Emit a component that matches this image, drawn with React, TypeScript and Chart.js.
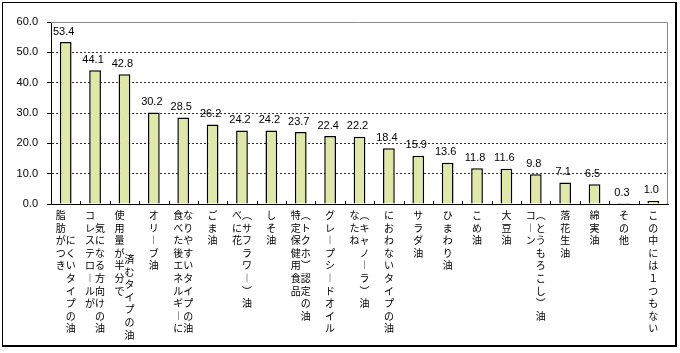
import React, { useEffect, useRef } from "react";
import { Chart, registerables } from "chart.js";

Chart.register(...registerables);

// ---- data ----
const categoryColumns: string[][] = [
  ["脂肪がつき", "にくいタイプの油"],
  ["コレステロールが", "気になる方向けの油"],
  ["使用量が半分で", "済むタイプの油"],
  ["オリーブ油"],
  ["食べた後エネルギーに", "なりやすいタイプの油"],
  ["ごま油"],
  ["べに花", "（サフラワー）油"],
  ["しそ油"],
  ["特定保健用食品", "（トクホ）認定の油"],
  ["グレープシードオイル"],
  ["なたね", "（キャノーラ）油"],
  ["におわないタイプの油"],
  ["サラダ油"],
  ["ひまわり油"],
  ["こめ油"],
  ["大豆油"],
  ["コーン", "（とうもろこし）油"],
  ["落花生油"],
  ["綿実油"],
  ["その他"],
  ["この中には１つもない"],
];

const values = [
  53.4, 44.1, 42.8, 30.2, 28.5, 26.2, 24.2, 24.2, 23.7, 22.4, 22.2, 18.4, 15.9,
  13.6, 11.8, 11.6, 9.8, 7.1, 6.5, 0.3, 1.0,
];

const yMin = 0;
const yMax = 60;
const yStep = 10;

// ---- layout helpers (vertical text) ----
// start of the second column, in half-rows, for labels that wrap into two columns
const RIGHT_COL_START: Record<number, number> = { 0: 4, 1: 2, 2: 7 };
const VERT: Record<string, string> = { "ー": "︱", "（": "︵", "）": "︶" };

function toVertical(s: string): string[] {
  return Array.from(s).map((c) => VERT[c] ?? c);
}

function buildLines(cols: string[], idx: number): string[] {
  const left = toVertical(cols[0]);
  const lines: string[] = [];
  if (cols.length === 1) {
    left.forEach((c) => {
      lines.push(c);
      lines.push("");
    });
    return lines;
  }
  const right = toVertical(cols[1]);
  const rs = RIGHT_COL_START[idx] ?? 0;
  const total = Math.max(left.length * 2, rs + right.length * 2);
  for (let k = 0; k < total; k++) {
    const l = k % 2 === 0 ? left[k / 2] : undefined;
    const r = k >= rs && (k - rs) % 2 === 0 ? right[(k - rs) / 2] : undefined;
    if (!l && !r) lines.push("");
    else lines.push((l ?? "　") + (r ?? "　"));
  }
  return lines;
}

const labels = categoryColumns.map((c, i) => buildLines(c, i));

const decorPlugin = {
  id: "decor",
  afterDatasetsDraw(chart: any) {
    const { ctx, chartArea: a, scales } = chart;
    const xs = scales.x;
    ctx.save();
    // plot frame (top / right), gray
    ctx.strokeStyle = "#8a8a8a";
    ctx.lineWidth = 1;
    ctx.setLineDash([]);
    ctx.beginPath();
    ctx.moveTo(a.left, Math.round(a.top) + 0.5);
    ctx.lineTo(Math.round(a.right) - 0.5, Math.round(a.top) + 0.5);
    ctx.lineTo(Math.round(a.right) - 0.5, a.bottom);
    ctx.stroke();
    // inner tick marks at category boundaries
    ctx.strokeStyle = "#000";
    ctx.beginPath();
    for (let i = 1; i < values.length; i++) {
      const px =
        Math.round((xs.getPixelForValue(i - 1) + xs.getPixelForValue(i)) / 2) +
        0.5;
      ctx.moveTo(px, a.bottom);
      ctx.lineTo(px, a.bottom - 3);
    }
    ctx.stroke();
    // value labels
    const meta = chart.getDatasetMeta(0);
    ctx.fillStyle = "#000";
    ctx.font = '11px "Liberation Sans", Arial, sans-serif';
    ctx.textAlign = "center";
    ctx.textBaseline = "middle";
    meta.data.forEach((bar: any, i: number) => {
      ctx.fillText(values[i].toFixed(1), bar.x - 2, bar.y - 10.5);
    });
    ctx.restore();
  },
};

export default function App() {
  const ref = useRef<HTMLCanvasElement>(null);

  useEffect(() => {
    if (!ref.current) return;
    const chart = new Chart(ref.current, {
      type: "bar",
      data: {
        labels,
        datasets: [
          {
            data: values,
            backgroundColor: "#dfe8a6",
            borderColor: "#000",
            borderWidth: 1.5,
            borderSkipped: "bottom",
            barPercentage: 0.4,
            categoryPercentage: 1,
          },
        ],
      },
      options: {
        animation: false,
        responsive: false,
        events: [],
        layout: { padding: { top: 22, right: 12, left: 0, bottom: 0 } },
        plugins: {
          legend: { display: false },
          tooltip: { enabled: false },
          title: { display: false },
        },
        scales: {
          x: {
            grid: { display: false, drawTicks: false },
            border: { display: true, color: "#000", width: 1 },
            ticks: {
              autoSkip: false,
              maxRotation: 0,
              minRotation: 0,
              padding: 8,
              color: "#000",
              font: {
                family: '"Noto Sans CJK JP", sans-serif',
                size: 10,
                lineHeight: "6.3px",
              },
            },
            afterFit: (s: any) => {
              s.height = 149;
            },
          },
          y: {
            min: yMin,
            max: yMax,
            grid: {
              color: (c: any) =>
                c.tick && (c.tick.value === yMin || c.tick.value === yMax)
                  ? "rgba(0,0,0,0)"
                  : "#333",
              tickColor: "#000",
              tickLength: 4,
              lineWidth: 1,
            },
            border: { display: true, color: "#000", width: 1, dash: [2, 2] },
            ticks: {
              stepSize: yStep,
              padding: 9,
              color: "#000",
              font: { family: '"Liberation Sans", Arial, sans-serif', size: 11 },
              callback: (v: any) => Number(v).toFixed(1),
            },
            afterFit: (s: any) => {
              s.width = 51;
            },
          },
        },
      },
      plugins: [decorPlugin],
    });
    return () => chart.destroy();
  }, []);

  return (
    <div
      style={{
        position: "fixed",
        left: 0,
        top: 0,
        width: 680,
        height: 353,
        background: "#fff",
      }}
    >
      <div
        style={{
          position: "absolute",
          left: 2,
          top: 2,
          width: 672,
          height: 342,
          borderLeft: "1px solid #000",
          borderTop: "1px solid #000",
          borderRight: "2px solid #000",
          borderBottom: "2px solid #000",
        }}
      />
      <canvas
        ref={ref}
        width={680}
        height={353}
        style={{ position: "absolute", left: 0, top: 0, width: 680, height: 353 }}
      />
    </div>
  );
}
